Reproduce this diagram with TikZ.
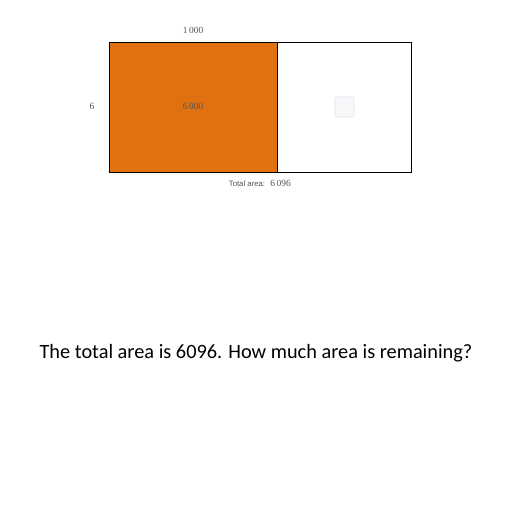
\documentclass[tikz,border=0pt]{standalone}
\usepackage{fontspec}
\setmainfont{Liberation Serif}
\newfontfamily\qfont{Carlito}
\newfontfamily\lblfont{Liberation Sans}
\definecolor{orng}{HTML}{E07010}
\definecolor{txtgray}{HTML}{555555}
\definecolor{boxfill}{HTML}{F6F7F9}
\definecolor{boxline}{HTML}{E3E5E8}
\begin{document}
\begin{tikzpicture}[x=1bp,y=-1bp,
  numlbl/.style={font=\fontsize{9.5}{11}\selectfont, text=txtgray, inner sep=0pt},
  region/.style={draw=black, line width=1.1bp, inner sep=0pt, minimum height=130bp}]
\useasboundingbox (0,0) rectangle (512,512);
\fill[white] (0,0) rectangle (512,512);
\node[region, fill=orng, minimum width=168bp, anchor=north west] (left) at (109,42) {};
\node[region, fill=white, minimum width=134bp, anchor=north west] (right) at (277,42) {};
\node[numlbl] (top) at (193,30) {1\,000};
\node[numlbl] (side) at (92,106) {6};
\node[numlbl] (inner) at (193,106) {6\,000};
\node[draw=boxline, fill=boxfill, rounded corners=2bp, minimum width=19bp, minimum height=20bp, line width=0.6bp] (blank) at (344.5,107) {};
\node[text=txtgray, inner sep=0pt] (tlabel) at (247,184) {\lblfont\fontsize{7.8}{9}\selectfont Total area:};
\node[numlbl] (tval) at (280.5,183) {6\,096};
\node[inner sep=0pt] (q) at (256,353) {\qfont\fontsize{20.4}{24}\selectfont The total area is 6096. How much area is remaining?};
\end{tikzpicture}
\end{document}
